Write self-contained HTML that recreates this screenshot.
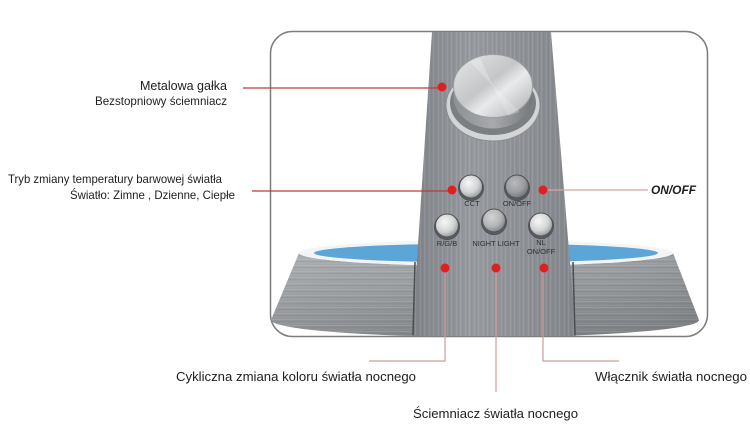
<!DOCTYPE html>
<html><head><meta charset="utf-8">
<style>
html,body{margin:0;padding:0;background:#fff;}
svg{display:block;}
text{font-family:"Liberation Sans",Arial,sans-serif;}
</style></head>
<body>
<svg width="750" height="437" viewBox="0 0 750 437" xmlns="http://www.w3.org/2000/svg">
<defs>
  <linearGradient id="tower" x1="0" y1="0" x2="1" y2="0">
    <stop offset="0" stop-color="#7f8388"/>
    <stop offset="0.35" stop-color="#979a9f"/>
    <stop offset="0.7" stop-color="#8d9095"/>
    <stop offset="1" stop-color="#82868b"/>
  </linearGradient>
  <pattern id="vstreak" width="9" height="40" patternUnits="userSpaceOnUse">
    <rect x="1" y="0" width="0.8" height="40" fill="#ffffff" opacity="0.12"/>
    <rect x="3.5" y="0" width="0.7" height="40" fill="#5a5e63" opacity="0.15"/>
    <rect x="6" y="0" width="1" height="40" fill="#ffffff" opacity="0.08"/>
    <rect x="8" y="0" width="0.6" height="40" fill="#4f5358" opacity="0.12"/>
  </pattern>
  <linearGradient id="base" x1="0" y1="0" x2="0" y2="1">
    <stop offset="0" stop-color="#a2a5a8"/>
    <stop offset="0.5" stop-color="#909396"/>
    <stop offset="1" stop-color="#7d8084"/>
  </linearGradient>
  <linearGradient id="baseH" x1="0" y1="0" x2="1" y2="0">
    <stop offset="0" stop-color="#ffffff" stop-opacity="0.12"/>
    <stop offset="0.5" stop-color="#ffffff" stop-opacity="0"/>
    <stop offset="1" stop-color="#000000" stop-opacity="0.06"/>
  </linearGradient>
  <pattern id="hstreak" width="60" height="6" patternUnits="userSpaceOnUse">
    <rect x="0" y="1" width="60" height="0.8" fill="#ffffff" opacity="0.15"/>
    <rect x="0" y="3.2" width="60" height="0.7" fill="#55595e" opacity="0.18"/>
    <rect x="0" y="5" width="60" height="0.6" fill="#ffffff" opacity="0.08"/>
  </pattern>
  <linearGradient id="face" x1="0" y1="0" x2="1" y2="1">
    <stop offset="0" stop-color="#e6e7e8"/>
    <stop offset="0.45" stop-color="#c4c6c8"/>
    <stop offset="0.6" stop-color="#e9eaeb"/>
    <stop offset="1" stop-color="#a9abae"/>
  </linearGradient>
  <linearGradient id="kside" x1="0" y1="0" x2="1" y2="0">
    <stop offset="0" stop-color="#8d9094"/>
    <stop offset="0.5" stop-color="#a7a9ac"/>
    <stop offset="1" stop-color="#75787c"/>
  </linearGradient>
  <radialGradient id="btnL" cx="0.4" cy="0.35" r="0.7">
    <stop offset="0" stop-color="#f7f7f7"/>
    <stop offset="0.6" stop-color="#d2d3d4"/>
    <stop offset="1" stop-color="#8e9093"/>
  </radialGradient>
  <radialGradient id="btnD" cx="0.4" cy="0.35" r="0.7">
    <stop offset="0" stop-color="#b8b9bb"/>
    <stop offset="0.6" stop-color="#9a9c9f"/>
    <stop offset="1" stop-color="#6c6f73"/>
  </radialGradient>
  <radialGradient id="btnM" cx="0.4" cy="0.35" r="0.7">
    <stop offset="0" stop-color="#d3d4d5"/>
    <stop offset="0.6" stop-color="#b1b3b5"/>
    <stop offset="1" stop-color="#7b7e82"/>
  </radialGradient>
</defs>

<!-- frame -->
<rect x="270.5" y="31.5" width="437" height="305" rx="22" ry="22" fill="#fff" stroke="#7d7d7d" stroke-width="1.5"/>

<!-- base -->
<path d="M299 253 A187 13 0 0 0 673 253 L699 320 A214 17 0 0 1 271 320 Z" fill="url(#base)"/>
<path d="M299 253 A187 13 0 0 0 673 253 L699 320 A214 17 0 0 1 271 320 Z" fill="url(#hstreak)"/>
<path d="M299 253 A187 13 0 0 0 673 253 L699 320 A214 17 0 0 1 271 320 Z" fill="url(#baseH)"/>
<ellipse cx="486" cy="253" rx="187" ry="13" fill="#f3f4f5"/>
<ellipse cx="486" cy="253" rx="172" ry="9.5" fill="#5ba5d7"/>

<!-- tower -->
<polygon points="432,32 551,32 576,336 412,336" fill="url(#tower)"/>
<polygon points="432,32 551,32 576,336 412,336" fill="url(#vstreak)"/>
<line x1="415" y1="262" x2="413" y2="335" stroke="#4a4d52" stroke-width="1.5"/>
<line x1="573" y1="262" x2="575" y2="335" stroke="#4a4d52" stroke-width="1.5"/>

<!-- knob -->
<ellipse cx="493" cy="105" rx="47" ry="36" fill="#d3d4d6" stroke="#8a8d91" stroke-width="1"/>
<ellipse cx="493" cy="103" rx="43" ry="32" fill="#7b7e83"/>
<ellipse cx="493" cy="97" rx="39.5" ry="31.5" fill="url(#kside)"/>
<rect x="453.5" y="86" width="79" height="11" fill="url(#kside)"/>
<ellipse cx="493" cy="86" rx="39.5" ry="31.5" fill="url(#face)" stroke="#9c9ea1" stroke-width="1"/>
<path d="M493 86 L470 62 L480 58 Z" fill="#ffffff" opacity="0.25"/>
<path d="M493 86 L520 112 L508 116 Z" fill="#ffffff" opacity="0.2"/>

<!-- buttons -->
<g stroke="#505357" stroke-width="1">
  <circle cx="471" cy="188" r="12.5" fill="#5a5d61"/>
  <circle cx="471" cy="186.5" r="11.5" fill="url(#btnL)"/>
  <circle cx="517" cy="188" r="12.5" fill="#5a5d61"/>
  <circle cx="517" cy="186.5" r="11.5" fill="url(#btnD)"/>
  <circle cx="447" cy="227" r="12.5" fill="#5a5d61"/>
  <circle cx="447" cy="225.5" r="11.5" fill="url(#btnL)"/>
  <circle cx="494" cy="222" r="12.5" fill="#5a5d61"/>
  <circle cx="494" cy="220.5" r="11.5" fill="url(#btnM)"/>
  <circle cx="541" cy="226" r="12.5" fill="#5a5d61"/>
  <circle cx="541" cy="224.5" r="11.5" fill="url(#btnL)"/>
</g>
<g fill="#2e3034" font-size="7.5" text-anchor="middle">
  <text x="472" y="206">CCT</text>
  <text x="517" y="206">ON/OFF</text>
  <text x="447" y="246">R/G/B</text>
  <text x="496" y="246">NIGHT LIGHT</text>
  <text x="541" y="245">NL</text>
  <text x="541" y="254">ON/OFF</text>
</g>

<!-- connector lines -->
<g fill="none" stroke-width="1.2">
  <line x1="243" y1="88" x2="442" y2="88" stroke="#c0393b"/>
  <line x1="252" y1="191" x2="452" y2="191" stroke="#c0393b"/>
  <line x1="543" y1="190" x2="648" y2="190" stroke="#dba3a3"/>
  <polyline points="445,268 445,361 369,361" stroke="#d49a9a"/>
  <line x1="496" y1="268" x2="496" y2="392" stroke="#d49a9a"/>
  <polyline points="543,268 543,361 619,361" stroke="#d49a9a"/>
</g>
<g fill="#e0201e">
  <circle cx="442" cy="87" r="4.5"/>
  <circle cx="452" cy="190" r="4.5"/>
  <circle cx="543" cy="190" r="4.5"/>
  <circle cx="445" cy="268" r="4.5"/>
  <circle cx="496" cy="268" r="4.5"/>
  <circle cx="544" cy="268" r="4.5"/>
</g>

<!-- labels -->
<g fill="#1e1e1e">
  <text x="227" y="90" font-size="12.5" text-anchor="end" textLength="87" lengthAdjust="spacingAndGlyphs">Metalowa gałka</text>
  <text x="227" y="105" font-size="12" text-anchor="end" textLength="132" lengthAdjust="spacingAndGlyphs">Bezstopniowy ściemniacz</text>
  <text x="8" y="183" font-size="12" textLength="214" lengthAdjust="spacingAndGlyphs">Tryb zmiany temperatury barwowej światła</text>
  <text x="70" y="199" font-size="12" textLength="165" lengthAdjust="spacingAndGlyphs">Światło: Zimne , Dzienne, Ciepłe</text>
  <text x="651" y="194" font-size="12" font-weight="bold" font-style="italic" textLength="45" lengthAdjust="spacingAndGlyphs">ON/OFF</text>
  <text x="176" y="381" font-size="13" textLength="240" lengthAdjust="spacingAndGlyphs">Cykliczna zmiana koloru światła nocnego</text>
  <text x="595" y="381" font-size="13" textLength="152" lengthAdjust="spacingAndGlyphs">Włącznik światła nocnego</text>
  <text x="413" y="418" font-size="13" textLength="165" lengthAdjust="spacingAndGlyphs">Ściemniacz światła nocnego</text>
</g>
</svg>
</body></html>
